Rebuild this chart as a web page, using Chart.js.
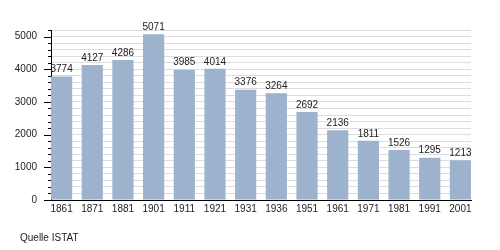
<!DOCTYPE html>
<html>
<head>
<meta charset="utf-8">
<script src="https://cdn.jsdelivr.net/npm/chart.js@4/dist/chart.umd.min.js"></script>
<style>
    html, body { margin: 0; padding: 0; background: #fff; }
    #wrap { position: relative; width: 500px; height: 250px; }
    #quelle { position: absolute; left: 20px; top: 232px; font: 10px "Liberation Sans", Arial, sans-serif; color: #222; }
</style>
</head>
<body>
<div id="wrap">
    <canvas id="chart" width="500" height="250"></canvas>
    <div id="quelle">Quelle ISTAT</div>
</div>
<script>
const years = ['1861', '1871', '1881', '1901', '1911', '1921', '1931', '1936', '1951', '1961', '1971', '1981', '1991', '2001'];
const population = [3774, 4127, 4286, 5071, 3985, 4014, 3376, 3264, 2692, 2136, 1811, 1526, 1295, 1213];
const yLabels = [0, 1000, 2000, 3000, 4000, 5000];

const FONT = '"Liberation Sans", Arial, sans-serif';

// Etiquetas de valor encima de cada barra + marcas del eje Y
const extras = {
    id: 'extras',
    afterDatasetsDraw(chart) {
        const ctx = chart.ctx;
        const meta = chart.getDatasetMeta(0);
        ctx.save();
        ctx.font = '10px ' + FONT;
        ctx.fillStyle = '#222';
        ctx.textAlign = 'center';
        ctx.textBaseline = 'bottom';
        meta.data.forEach((bar, i) => {
            ctx.fillText(String(population[i]), bar.x, bar.y - 2);
        });

        const y = chart.scales.y;
        ctx.strokeStyle = '#000';
        ctx.lineWidth = 1;
        y.ticks.forEach(t => {
            const py = Math.round(y.getPixelForValue(t.value)) + 0.5;
            const len = yLabels.includes(t.value) ? 7 : 3;
            ctx.beginPath();
            ctx.moveTo(y.right - len, py);
            ctx.lineTo(y.right, py);
            ctx.stroke();
        });
        ctx.restore();
    }
};

new Chart(document.getElementById('chart'), {
    type: 'bar',
    data: {
        datasets: [{
            data: population.map((v, i) => ({ x: i, y: v })),
            backgroundColor: '#9cb2cd',
            borderWidth: 0,
            categoryPercentage: 1,
            barPercentage: 0.69
        }]
    },
    options: {
        responsive: false,
        animation: false,
        layout: { padding: { top: 30, right: 29, left: 0, bottom: 0 } },
        plugins: { legend: { display: false }, tooltip: { enabled: false } },
        scales: {
            x: {
                type: 'linear',
                offset: false,
                min: -0.345,
                max: 13.345,
                afterBuildTicks: s => { s.ticks = years.map((_, i) => ({ value: i })); },
                afterFit: s => { s.height = 50; },
                grid: { display: false, drawTicks: false, offset: false },
                border: { display: true, color: '#000', width: 1 },
                ticks: {
                    padding: 3,
                    autoSkip: false,
                    maxRotation: 0,
                    color: '#222',
                    font: { family: FONT, size: 10 },
                    callback: v => years[v]
                }
            },
            y: {
                min: 0,
                max: 5200,
                afterFit: s => { s.width = 51; },
                afterBuildTicks: s => {
                    const t = [];
                    for (let v = 0; v <= 5200; v += 200) t.push({ value: v });
                    s.ticks = t;
                },
                grid: { color: '#dddddd', drawTicks: false },
                border: { display: true, color: '#000', width: 1 },
                ticks: {
                    padding: 14,
                    autoSkip: false,
                    color: '#222',
                    font: { family: FONT, size: 10 },
                    callback: v => yLabels.includes(v) ? String(v) : ''
                }
            }
        }
    },
    plugins: [extras]
});
</script>
</body>
</html>
